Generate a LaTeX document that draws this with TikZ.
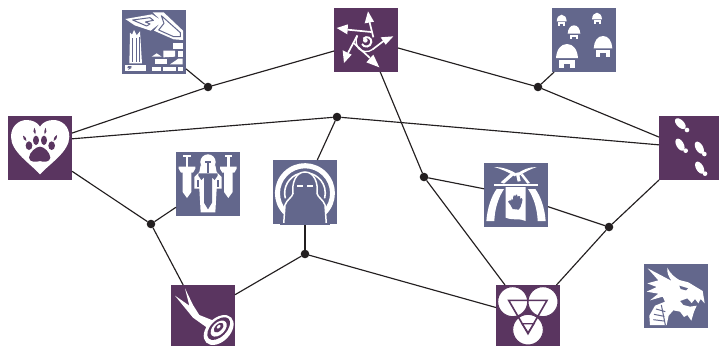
\documentclass[tikz,border=0pt]{standalone}
\definecolor{plum}{HTML}{5A3560}
\definecolor{slate}{HTML}{63678C}
\definecolor{ink}{HTML}{231F20}
\tikzset{
  tile/.style={rectangle,inner sep=0pt,outer sep=0pt,minimum width=#1,minimum height=64pt},
  tile/.default=64pt,
  plumtile/.style={tile,fill=plum},
  slatetile/.style={tile,fill=slate},
  joint/.style={circle,fill=ink,inner sep=0pt,outer sep=0pt,minimum size=8.6pt},
  link/.style={draw=ink,line width=1.15pt},
  crop/.style 2 args={shift={(#1,#2)},x=0.33333pt,y=-0.33333pt},
}
\newcommand{\hutshape}[4]{% x, top y, half width, height
  \fill[white] (#1-#3,#2+0.6*#4) .. controls (#1-0.95*#3,#2+0.25*#4) and (#1-0.6*#3,#2) .. (#1,#2) .. controls (#1+0.6*#3,#2) and (#1+0.95*#3,#2+0.25*#4) .. (#1+#3,#2+0.6*#4) -- cycle;
  \fill[white] (#1-0.7*#3,#2+0.67*#4) rectangle (#1+0.7*#3,#2+#4);
  \fill[slate] (#1-0.3*#3,#2+#4) -- (#1-0.3*#3,#2+0.84*#4) -- (#1+0.3*#3,#2+0.84*#4) -- (#1+0.3*#3,#2+#4) -- cycle;
}
\newcommand{\footprint}[5]{% x,y toe centre, x,y heel centre, angle
  \fill[white,rotate around={#5:(#1,#2)}] (#1,#2) ellipse [x radius=20,y radius=11];
  \fill[white] (#3,#4) circle [radius=7];
}
\newcommand{\swordshape}[1]{%
  \fill[white] (#1-13,60) -- (#1+13,60) -- (#1+13,120) -- (#1,138) -- (#1-13,120) -- cycle;
  \fill[white] (#1-25,44) -- (#1+25,44) -- (#1+25,50) -- (#1+18,62) -- (#1-18,62) -- (#1-25,50) -- cycle;
  \fill[white] (#1-4,14) rectangle (#1+4,46);
  \fill[white] (#1-11,9) rectangle (#1+11,16);
}
\begin{document}
\begin{tikzpicture}[x=1pt,y=-1pt]
\useasboundingbox (0,0) rectangle (719,346);
% nodes
\node[slatetile] (ruins) at (154,42) {};
\node[plumtile] (star) at (366,40) {};
\node[slatetile] (huts) at (584,40) {};
\node[plumtile] (heart) at (40,148) {};
\node[slatetile] (swords) at (208,184) {};
\node[slatetile] (hood) at (305,192) {};
\node[slatetile] (banner) at (516,195) {};
\node[plumtile,minimum width=60pt] (steps) at (689,148) {};
\node[plumtile,minimum height=61pt] (target) at (203,315.5) {};
\node[plumtile,minimum height=61pt] (triad) at (528,315.5) {};
\node[slatetile] (dragon) at (676,296) {};
\node[joint] (j1) at (208,87) {};
\node[joint] (j2) at (538,87) {};
\node[joint] (j3) at (337,117) {};
\node[joint] (j4) at (151,224) {};
\node[joint] (j5) at (424,177) {};
\node[joint] (j6) at (609,227) {};
\node[joint] (j7) at (305,254) {};
% connectors
\path[link] (ruins.-40) -- (j1);
\path[link] (j1) -- (star.199);
\path[link] (heart.25) -- (j1);
\path[link] (star.-14) -- (j2);
\path[link] (huts.-133) -- (j2);
\path[link] (j2) -- (steps.160);
\path[link] (heart.16) -- (j3);
\path[link] (j3) -- (steps.174);
\path[link] (j3) -- (hood.69);
\path[link] (heart.-36) -- (j4);
\path[link] (swords.216) -- (j4);
\path[link] (j4) -- (target.123);
\path[link] (target.33) -- (j7);
\path[link] (hood.south) -- (j7);
\path[link] (j7) -- (triad.166);
\path[link] (star.-66) -- (j5);
\path[link] (j5) -- (banner.169);
\path[link] (j5) -- (triad.127);
\path[link] (banner.-20) -- (j6);
\path[link] (steps.south west) -- (j6);
\path[link] (triad.47) -- (j6);
% ruins icon
\begin{scope}[crop={122}{10}]
\fill[white] (10,27) -- (90,13) -- (116,30) -- (92,7) -- (125,7) -- (183,62) -- (183,90) -- (155,88) -- (96,62) -- (114,40) -- (86,62) -- (38,46) -- cycle;
\draw[slate,line width=1pt,line join=round] (32,30) -- (84,23) -- (94,31) -- (70,36) -- (84,42) -- (74,48) -- cycle;
\draw[slate,line width=1pt,line join=round] (118,17) -- (175,68) -- (175,80) -- (155,80) -- (110,60) -- (126,40) -- cycle;
\fill[white] (22,160) -- (24,68) -- (30,74) -- (36,60) -- (44,76) -- (54,64) -- (60,160) -- cycle;
\fill[slate] (31,85) rectangle (34,155);
\fill[slate] (41,85) rectangle (44,155);
\fill[slate] (50,80) rectangle (53,155);
\fill[white] (8,165) rectangle (72,182);
\fill[slate] (18,168) -- (30,168) -- (24,173) -- (30,173) -- (18,180) -- (22,174) -- (16,174) -- cycle;
\fill[white] (152,98) rectangle (182,116);
\fill[white] (124,122) -- (159,122) -- (159,140) -- (124,142) -- cycle;
\fill[white] (169,122) rectangle (182,140);
\fill[white] (89,140) -- (104,130) -- (119,140) -- cycle;
\fill[white] (99,147) rectangle (136,163);
\fill[white] (144,163) -- (169,146) -- (182,146) -- (182,163) -- cycle;
\fill[white] (89,170) rectangle (116,182);
\fill[white] (122,170) rectangle (162,182);
\fill[white] (169,170) rectangle (182,182);
\end{scope}
% star icon
\begin{scope}[crop={334}{8}]
\draw[white,line width=1.7pt] (106,40) -- (118,88);
\fill[white] (102,10) -- (120,41) -- (92,46) -- cycle;
\draw[white,line width=1.7pt] (150,98) -- (116,124);
\fill[white] (178,85) -- (155,110) -- (140,88) -- cycle;
\draw[white,line width=1.7pt] (108,150) -- (60,106);
\fill[white] (136,178) -- (97,163) -- (118,140) -- cycle;
\draw[white,line width=1.7pt] (42,135) -- (70,82);
\fill[white] (30,165) -- (26,127) -- (53,140) -- cycle;
\draw[white,line width=1.7pt] (40,65) -- (112,72);
\fill[white] (8,60) -- (42,49) -- (40,79) -- cycle;
\draw[white,line width=1.3pt] (116,124) .. controls (104,134) and (84,132) .. (74,122) .. controls (66,112) and (64,96) .. (70,84);
\draw[white,line width=2pt] (84,108) .. controls (90,120) and (110,118) .. (112,102) .. controls (113,90) and (98,82) .. (88,92);
\fill[white] (94,97) circle [radius=7];
\end{scope}
% huts icon
\begin{scope}[crop={545}{0}]
\hutshape{66}{132}{33}{71}
\hutshape{174}{108}{28}{62}
\hutshape{87}{76}{19}{42}
\hutshape{50}{44}{15}{34}
\hutshape{156}{38}{15}{34}
\end{scope}
% heart icon
\begin{scope}[crop={0}{105}]
\fill[white] (120,208) .. controls (90,175) and (33,140) .. (33,95) .. controls (33,62) and (58,45) .. (80,45) .. controls (98,45) and (113,53) .. (120,65) .. controls (127,53) and (142,45) .. (160,45) .. controls (184,45) and (208,62) .. (208,95) .. controls (208,140) and (150,175) .. (120,208) -- cycle;
\fill[plum] (120,168) .. controls (108,172) and (88,172) .. (87,158) .. controls (88,142) and (108,125) .. (120,125) .. controls (132,125) and (150,142) .. (151,158) .. controls (150,172) and (130,172) .. (120,168) -- cycle;
\fill[plum] (87,122) ellipse [x radius=10,y radius=13];
\fill[plum] (108,106) ellipse [x radius=9,y radius=14];
\fill[plum] (132,106) ellipse [x radius=9,y radius=14];
\fill[plum] (155,122) ellipse [x radius=10,y radius=13];
\fill[plum] (69,92) .. controls (78,96) and (80,102) .. (79,108) .. controls (72,106) and (68,100) .. (69,92) -- cycle;
\fill[plum] (103,68) .. controls (108,74) and (108,82) .. (106,88) .. controls (100,84) and (98,76) .. (103,68) -- cycle;
\fill[plum] (137,68) .. controls (141,76) and (140,84) .. (134,88) .. controls (132,82) and (132,74) .. (137,68) -- cycle;
\fill[plum] (171,90) .. controls (171,100) and (168,106) .. (161,108) .. controls (160,102) and (162,96) .. (171,90) -- cycle;
\end{scope}
% swords icon
\begin{scope}[crop={176}{152}]
\swordshape{33}
\swordshape{157}
\fill[white] (96,30) circle [radius=23];
\fill[white] (74,40) -- (118,40) -- (122,60) -- (137,75) -- (137,110) -- (122,110) -- (118,181) -- (74,181) -- (70,110) -- (55,110) -- (55,75) -- (70,60) -- cycle;
\fill[slate] (86,27) rectangle (106,34);
\fill[slate] (92,34) rectangle (100,62);
\fill[slate] (67,64) -- (125,64) -- (125,71) -- (116,84) -- (108,76) -- (108,152) -- (96,172) -- (84,152) -- (84,76) -- (76,84) -- (67,71) -- cycle;
\fill[slate] (64,84) rectangle (69,106);
\fill[slate] (123,84) rectangle (128,106);
\end{scope}
% hood icon
\begin{scope}[crop={273}{160}]
\fill[white] (31,162) arc [start angle=136,end angle=404,radius=90] -- (150,152) arc [start angle=404,end angle=136,radius=75] -- cycle;
\draw[white,line width=1.6pt] (37,115) arc [start angle=165,end angle=375,radius=61];
\fill[slate,draw=white,line width=1.5pt] (96,36) .. controls (124,36) and (136,70) .. (132,100) .. controls (134,112) and (150,118) .. (156,135) -- (160,192) -- (32,192) -- (36,135) .. controls (42,118) and (58,112) .. (60,100) .. controls (56,70) and (68,36) .. (96,36) -- cycle;
\fill[white] (72,76) rectangle (90,81);
\fill[white] (101,76) rectangle (119,81);
\fill[slate] (20,189) rectangle (172,196);
\end{scope}
% target icon
\begin{scope}[crop={171}{285}]
\fill[white] (42,10) -- (66,60) -- (85,90) -- (135,110) -- (118,135) -- (66,98) -- (12,32) -- (55,62) -- cycle;
\fill[white,rotate around={45:(143,135)}] (143,135) ellipse [x radius=53,y radius=35];
\fill[plum,rotate around={45:(143,135)}] (146,132) ellipse [x radius=42,y radius=24];
\fill[white,rotate around={45:(143,135)}] (146,132) ellipse [x radius=29,y radius=18];
\fill[plum,rotate around={45:(143,135)}] (148,130) ellipse [x radius=18,y radius=10];
\fill[white,rotate around={45:(143,135)}] (150,128) ellipse [x radius=7,y radius=4];
\end{scope}
% banner icon
\begin{scope}[crop={484}{163}]
\fill[white] (7,174) .. controls (10,135) and (22,100) .. (38,78) -- (60,78) .. controls (42,105) and (32,140) .. (31,174) -- cycle;
\fill[white] (185,174) .. controls (182,135) and (170,100) .. (154,78) -- (132,78) .. controls (150,105) and (160,140) .. (161,174) -- cycle;
\fill[white] (30,62) rectangle (162,70);
\fill[white] (65,72) -- (125,72) -- (125,174) .. controls (105,164) and (90,174) .. (65,164) -- cycle;
\fill[slate] (82,112) .. controls (81,104) and (85,106) .. (87,112) -- (88,99) .. controls (90,95) and (93,96) .. (93,101) -- (96,95) .. controls (99,93) and (101,95) .. (100,101) -- (105,99) .. controls (108,98) and (110,101) .. (108,108) -- (113,105) .. controls (116,105) and (116,112) .. (114,118) .. controls (112,128) and (108,136) .. (104,140) -- (86,138) .. controls (82,130) and (78,122) .. (72,116) .. controls (74,112) and (79,112) .. (82,112) -- cycle;
\fill[white] (30,12) .. controls (55,12) and (80,20) .. (100,34) -- (92,40) .. controls (75,28) and (52,18) .. (30,12) -- cycle;
\fill[white] (158,12) .. controls (135,12) and (115,20) .. (100,32) -- (106,38) .. controls (120,28) and (140,18) .. (158,12) -- cycle;
\fill[white] (50,58) -- (86,26) -- (92,34) -- (60,62) -- cycle;
\fill[white] (95,30) -- (104,28) -- (110,54) -- (101,56) -- cycle;
\fill[white] (110,36) -- (116,32) -- (138,60) -- (130,62) -- cycle;
\end{scope}
% triad icon
\begin{scope}[crop={496}{285}]
\fill[white] (50,50) circle [radius=45];
\fill[white] (141,50) circle [radius=45];
\fill[white] (96,134) circle [radius=46];
\draw[plum,line width=1pt] (50,50) circle [radius=45];
\draw[plum,line width=1pt] (141,50) circle [radius=45];
\draw[plum,line width=1pt] (96,134) circle [radius=46];
\draw[plum,line width=1.6pt,line join=miter] (38,46) -- (153,46) -- (96,146) -- cycle;
\draw[plum,line width=1.3pt] (78,116) -- (114,116) -- (96,143) -- cycle;
\end{scope}
% dragon icon
\begin{scope}[crop={480}{155}]
\fill[white] (503,340) -- (545,362) -- (575,378) .. controls (565,365) and (560,350) .. (562,338) .. controls (570,355) and (585,368) .. (598,375) -- (625,382) -- (668,408) -- (674,445) -- (662,432) -- (655,445) -- (645,432) -- (635,444) -- (622,430) -- (600,438) -- (610,450) -- (630,455) -- (650,452) -- (642,470) -- (634,497) -- (622,480) -- (612,486) -- (600,470) -- (580,466) -- (566,482) -- (560,510) -- (510,510) -- (508,482) -- (525,452) -- (555,440) -- (548,425) -- (510,436) -- (535,416) -- (500,410) -- (530,396) -- (502,385) -- (535,376) -- cycle;
\fill[slate] (598,392) -- (624,400) -- (618,406) -- (602,402) -- cycle;
\draw[slate,line width=1pt] (528,462) -- (556,470);
\draw[slate,line width=1pt] (522,478) -- (553,484);
\draw[slate,line width=1pt] (520,494) -- (552,498);
\draw[slate,line width=1pt] (544,450) -- (556,510);
\end{scope}
% steps icon
\begin{scope}[crop={545}{0}]
\footprint{406}{371}{426}{390}{-45}
\footprint{405}{434}{422}{452}{-60}
\footprint{463}{443}{478}{462}{-60}
\footprint{464}{503}{480}{521}{-60}
\end{scope}
\end{tikzpicture}
\end{document}
